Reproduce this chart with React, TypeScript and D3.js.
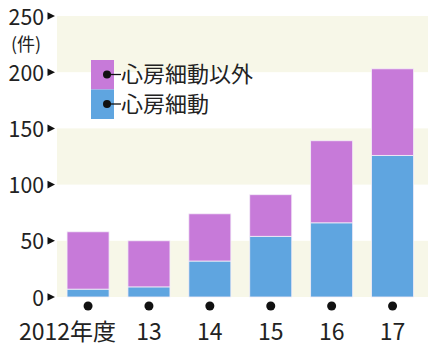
import React from "react";
import * as d3 from "d3";

const years = ["2012年度", "13", "14", "15", "16", "17"];
const afValues = [7, 9, 32, 54, 66, 126];
const otherValues = [51, 41, 42, 37, 73, 77];
const yTicks = [0, 50, 100, 150, 200, 250];
const seriesNames = ["心房細動以外", "心房細動"];

const W = 428;
const H = 353;
const PURPLE = "#c77ad9";
const BLUE = "#5fa5e0";
const CREAM = "#f7f7e8";
const FONT = "'Noto Sans CJK JP', 'Noto Sans', sans-serif";

export default function App() {
  const y = d3.scaleLinear().domain([0, 250]).range([297, 16]);
  const x = d3
    .scaleBand<string>()
    .domain(years)
    .range([57.6, 423])
    .paddingInner(0.31)
    .paddingOuter(0.155);

  const data = years.map((yr, i) => ({ yr, af: afValues[i], other: otherValues[i] }));
  const stack = d3.stack<any>().keys(["af", "other"])(data);
  const colors = [BLUE, PURPLE];

  const bands = [
    [0, 50],
    [100, 150],
    [200, 250],
  ];

  return (
    <svg
      width={W}
      height={H}
      style={{ position: "absolute", left: 0, top: 0, background: "#fff" }}
      fontFamily={FONT}
    >
      <rect x={0} y={0} width={W} height={H} fill="#fff" />
      {bands.map(([a, b]) => (
        <rect key={a} x={57} y={y(b)} width={W - 57} height={y(a) - y(b)} fill={CREAM} />
      ))}
      {/* y axis ticks */}
      {yTicks.map((t) => (
        <g key={t}>
          <text
            x={44}
            y={y(t) + 8.5}
            textAnchor="end"
            fontSize={22}
            fill="#222"
            textLength={String(t).length * 11.8}
            lengthAdjust="spacingAndGlyphs"
          >
            {t}
          </text>
          <path d={`M47.5,${y(t) - 3.8}L55,${y(t)}L47.5,${y(t) + 3.8}Z`} fill="#111" />
        </g>
      ))}
      <text x={26} y={51} textAnchor="middle" fontSize={18} fill="#222">
        (件)
      </text>
      {/* bars */}
      {stack.map((s, si) =>
        s.map((d: any, i: number) => (
          <rect
            key={`${si}-${i}`}
            x={x(years[i])}
            y={y(d[1])}
            width={x.bandwidth()}
            height={y(d[0]) - y(d[1])}
            fill={colors[si]}
            stroke="#f4eef8"
            strokeWidth={0.8}
          />
        ))
      )}
      {/* x axis dots and labels */}
      {years.map((yr) => {
        const cx = (x(yr) as number) + x.bandwidth() / 2;
        return (
          <g key={yr}>
            <circle cx={cx} cy={306} r={4.5} fill="#111" />
            {yr === years[0] ? (
              <text x={cx + 28} y={340} textAnchor="end" fontSize={23} fill="#222">
                {yr}
              </text>
            ) : (
              <text
                x={cx}
                y={340}
                textAnchor="middle"
                fontSize={23}
                fill="#222"
              >
                {yr}
              </text>
            )}
          </g>
        );
      })}
      {/* legend */}
      {seriesNames.map((name, i) => {
        const top = 60 + i * 29.5;
        return (
          <g key={name}>
            <rect x={91} y={top} width={23} height={29.5} fill={i === 0 ? PURPLE : BLUE} />
            <circle cx={107} cy={top + 14.5} r={4} fill="#111" />
            <line x1={107} x2={121} y1={top + 14.5} y2={top + 14.5} stroke="#111" strokeWidth={1.3} />
            <text x={121} y={top + 22} fontSize={22} fill="#222">
              {name}
            </text>
          </g>
        );
      })}
    </svg>
  );
}
